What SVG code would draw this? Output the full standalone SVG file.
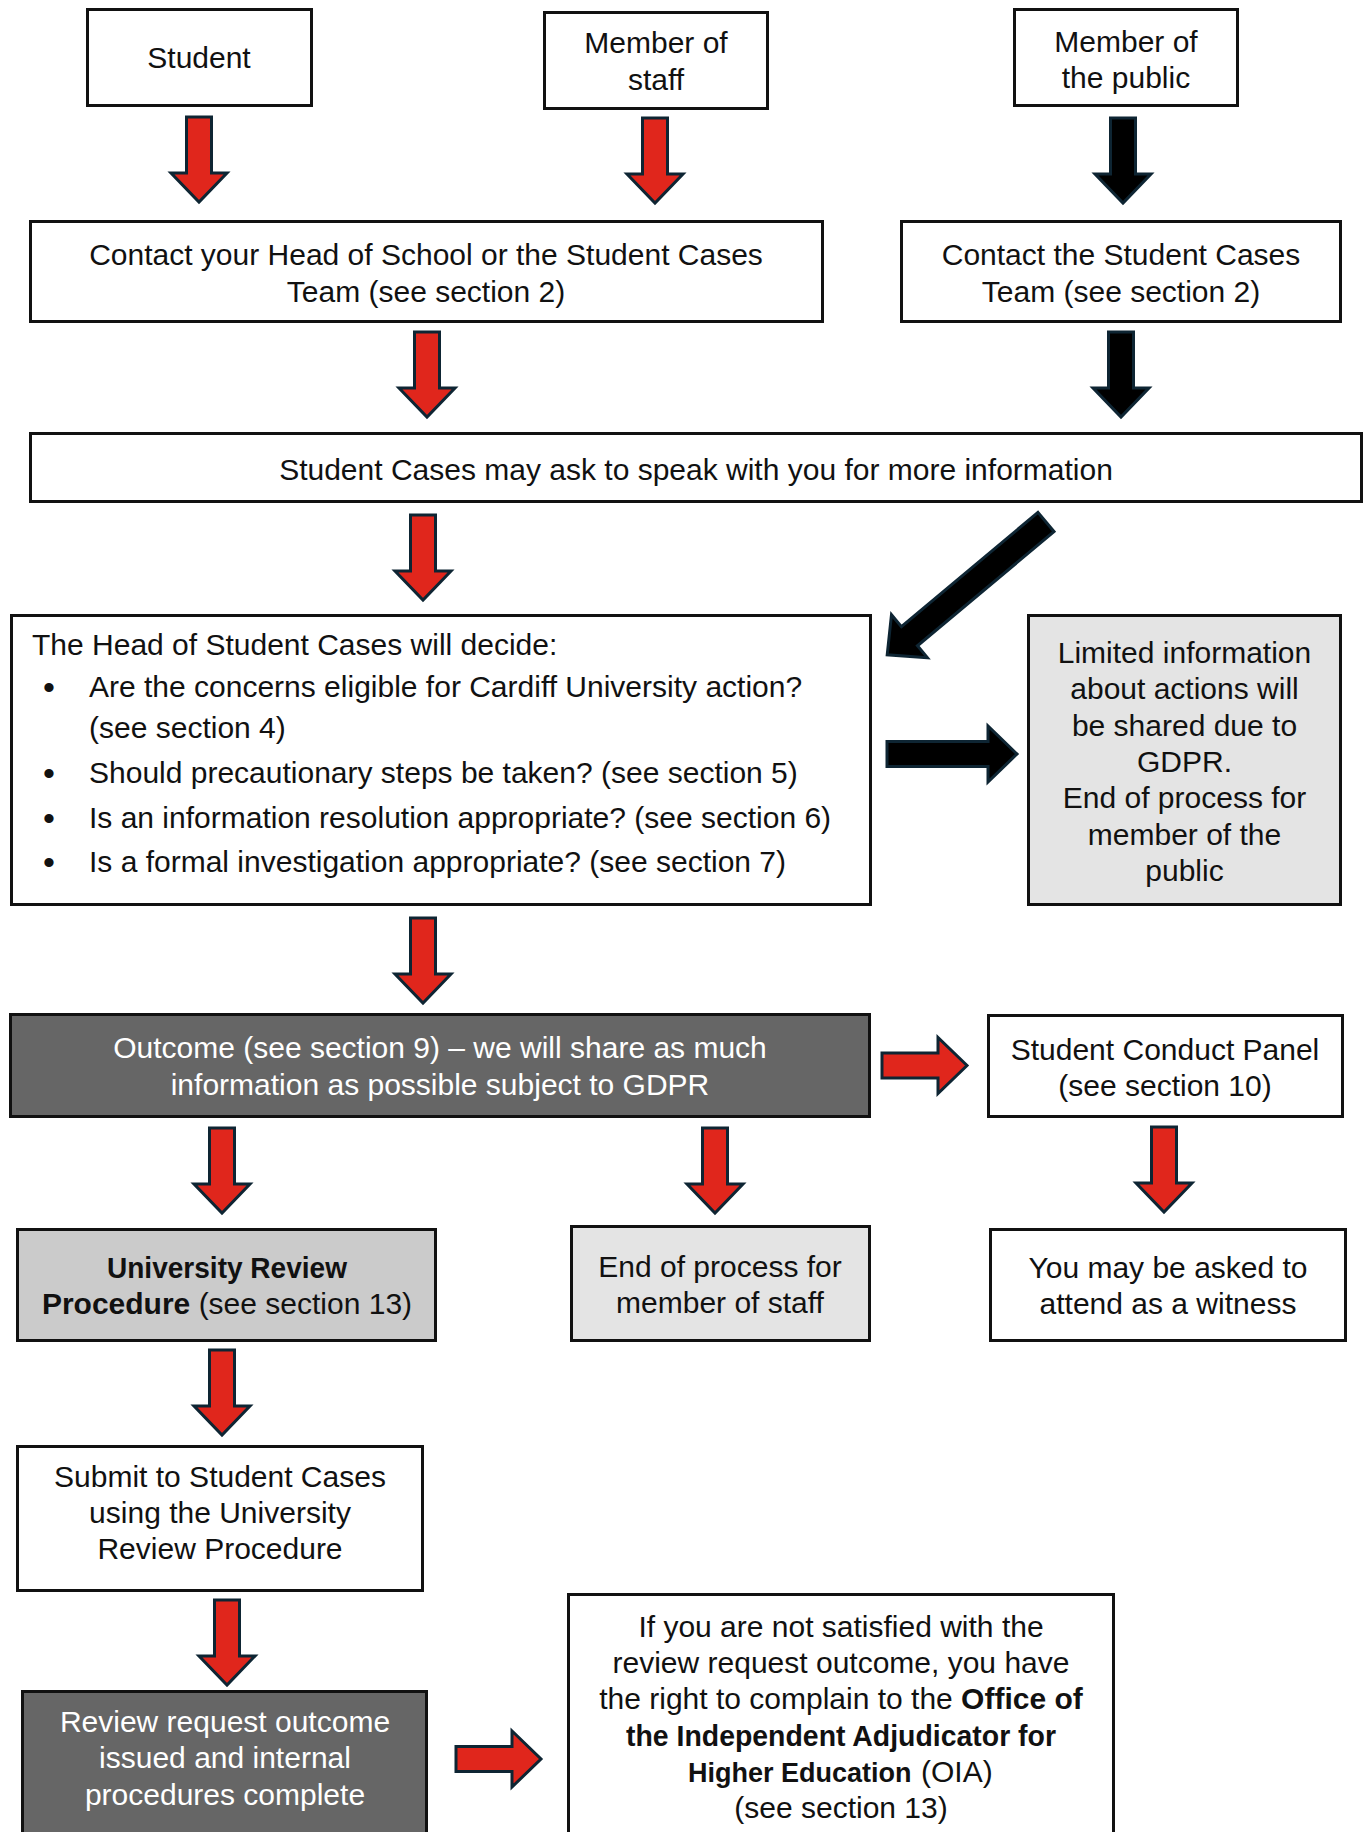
<svg xmlns="http://www.w3.org/2000/svg" xmlns:xlink="http://www.w3.org/1999/xlink" width="1367" height="1832" viewBox="0 0 1367 1832">
<style>
.box{fill:#fff;stroke:#111;stroke-width:3}
.light{fill:#e4e4e4}
.mid{fill:#cbcbcb}
.dark{fill:#666}
text{font-family:"Liberation Sans",Arial,sans-serif;font-size:30px;fill:#111}
.c{text-anchor:middle}
.w{fill:#fff}
.b{font-weight:bold}
.red{fill:#e0261c;stroke:#0e2533;stroke-width:3;stroke-linejoin:miter}
.blk{fill:#000;stroke:#0e2533;stroke-width:3;stroke-linejoin:miter}
</style>
<defs>
<path id="a85" d="M-12.5,0H12.5V56H28L0,85L-28,56H-12.5Z"/>
</defs>
<rect width="1367" height="1832" fill="#fff"/>

<g id="connectors">
<use xlink:href="#a85" href="#a85" class="red" transform="translate(199,117)"/>
<use xlink:href="#a85" href="#a85" class="red" transform="translate(655,118)"/>
<use xlink:href="#a85" href="#a85" class="blk" transform="translate(1123,118)"/>
<use xlink:href="#a85" href="#a85" class="red" transform="translate(427,332)"/>
<use xlink:href="#a85" href="#a85" class="blk" transform="translate(1121,332)"/>
<use xlink:href="#a85" href="#a85" class="red" transform="translate(423,515)"/>
<path class="blk" d="M-12.5,0H12.5V178H28L0,207L-28,178H-12.5Z" transform="translate(1046,522) rotate(50.1)"/>
<path class="blk" d="M-12.5,0H12.5V101H28L0,130L-28,101H-12.5Z" transform="translate(887,754) rotate(-90)"/>
<use xlink:href="#a85" href="#a85" class="red" transform="translate(423,918)"/>
<use xlink:href="#a85" href="#a85" class="red" transform="translate(882,1065.5) rotate(-90)"/>
<use xlink:href="#a85" href="#a85" class="red" transform="translate(222,1128)"/>
<use xlink:href="#a85" href="#a85" class="red" transform="translate(715,1128)"/>
<use xlink:href="#a85" href="#a85" class="red" transform="translate(1164,1127)"/>
<use xlink:href="#a85" href="#a85" class="red" transform="translate(222,1350)"/>
<use xlink:href="#a85" href="#a85" class="red" transform="translate(227,1600)"/>
<use xlink:href="#a85" href="#a85" class="red" transform="translate(456,1759) rotate(-90)"/>
</g>

<g id="student">
<rect class="box" x="87.5" y="9.5" width="224" height="96"/>
<text class="c" x="199" y="68">Student</text>
</g>
<g id="staff">
<rect class="box" x="544.5" y="12.5" width="223" height="96"/>
<text class="c" x="656" y="53">Member of</text>
<text class="c" x="656" y="90">staff</text>
</g>
<g id="public">
<rect class="box" x="1014.5" y="9.5" width="223" height="96"/>
<text class="c" x="1126" y="52">Member of</text>
<text class="c" x="1126" y="88">the public</text>
</g>
<g id="contact-head">
<rect class="box" x="30.5" y="221.5" width="792" height="100"/>
<text class="c" x="426" y="265">Contact your Head of School or the Student Cases</text>
<text class="c" x="426" y="302">Team (see section 2)</text>
</g>
<g id="contact-sc">
<rect class="box" x="901.5" y="221.5" width="439" height="100"/>
<text class="c" x="1121" y="265">Contact the Student Cases</text>
<text class="c" x="1121" y="302">Team (see section 2)</text>
</g>
<g id="speak">
<rect class="box" x="30.5" y="433.5" width="1331" height="68"/>
<text class="c" x="696" y="480">Student Cases may ask to speak with you for more information</text>
</g>
<g id="decide">
<rect class="box" x="11.5" y="615.5" width="859" height="289"/>
<text x="32" y="655">The Head of Student Cases will decide:</text>
<text class="c" x="49" y="699" style="font-size:34px">•</text>
<text x="89" y="697">Are the concerns eligible for Cardiff University action?</text>
<text x="89" y="738">(see section 4)</text>
<text class="c" x="49" y="785" style="font-size:34px">•</text>
<text x="89" y="783">Should precautionary steps be taken? (see section 5)</text>
<text class="c" x="49" y="830" style="font-size:34px">•</text>
<text x="89" y="828">Is an information resolution appropriate? (see section 6)</text>
<text class="c" x="49" y="874" style="font-size:34px">•</text>
<text x="89" y="872">Is a formal investigation appropriate? (see section 7)</text>
</g>
<g id="limited">
<rect class="box light" x="1028.5" y="615.5" width="312" height="289"/>
<text class="c" x="1184.5" y="663">Limited information</text>
<text class="c" x="1184.5" y="699">about actions will</text>
<text class="c" x="1184.5" y="736">be shared due to</text>
<text class="c" x="1184.5" y="772">GDPR.</text>
<text class="c" x="1184.5" y="808">End of process for</text>
<text class="c" x="1184.5" y="845">member of the</text>
<text class="c" x="1184.5" y="881">public</text>
</g>
<g id="outcome">
<rect class="box dark" x="10.5" y="1014.5" width="859" height="102"/>
<text class="c w" x="440" y="1058">Outcome (see section 9) – we will share as much</text>
<text class="c w" x="440" y="1095">information as possible subject to GDPR</text>
</g>
<g id="panel">
<rect class="box" x="988.5" y="1015.5" width="354" height="101"/>
<text class="c" x="1165" y="1060">Student Conduct Panel</text>
<text class="c" x="1165" y="1096">(see section 10)</text>
</g>
<g id="review">
<rect class="box mid" x="17.5" y="1229.5" width="418" height="111"/>
<text class="c b" x="227" y="1278" textLength="240" lengthAdjust="spacingAndGlyphs">University Review</text>
<text class="c" x="227" y="1314"><tspan class="b">Procedure</tspan> (see section 13)</text>
</g>
<g id="end-staff">
<rect class="box light" x="571.5" y="1226.5" width="298" height="114"/>
<text class="c" x="720" y="1277">End of process for</text>
<text class="c" x="720" y="1313">member of staff</text>
</g>
<g id="witness">
<rect class="box" x="990.5" y="1229.5" width="355" height="111"/>
<text class="c" x="1168" y="1278">You may be asked to</text>
<text class="c" x="1168" y="1314">attend as a witness</text>
</g>
<g id="submit">
<rect class="box" x="17.5" y="1446.5" width="405" height="144"/>
<text class="c" x="220" y="1487">Submit to Student Cases</text>
<text class="c" x="220" y="1523">using the University</text>
<text class="c" x="220" y="1559">Review Procedure</text>
</g>
<g id="review-outcome">
<rect class="box dark" x="22.5" y="1691.5" width="404" height="160"/>
<text class="c w" x="225" y="1732">Review request outcome</text>
<text class="c w" x="225" y="1768">issued and internal</text>
<text class="c w" x="225" y="1805">procedures complete</text>
</g>
<g id="oia">
<rect class="box" x="568.5" y="1594.5" width="545" height="260"/>
<text class="c" x="841" y="1637">If you are not satisfied with the</text>
<text class="c" x="841" y="1673">review request outcome, you have</text>
<text class="c" x="841" y="1709">the right to complain to the <tspan class="b">Office of</tspan></text>
<text class="c b" x="841" y="1746" textLength="430" lengthAdjust="spacingAndGlyphs">the Independent Adjudicator for</text>
<text class="b" x="688" y="1782" style="font-size:27px">Higher Education</text>
<text x="921" y="1782">(OIA)</text>
<text class="c" x="841" y="1818">(see section 13)</text>
</g>
</svg>
